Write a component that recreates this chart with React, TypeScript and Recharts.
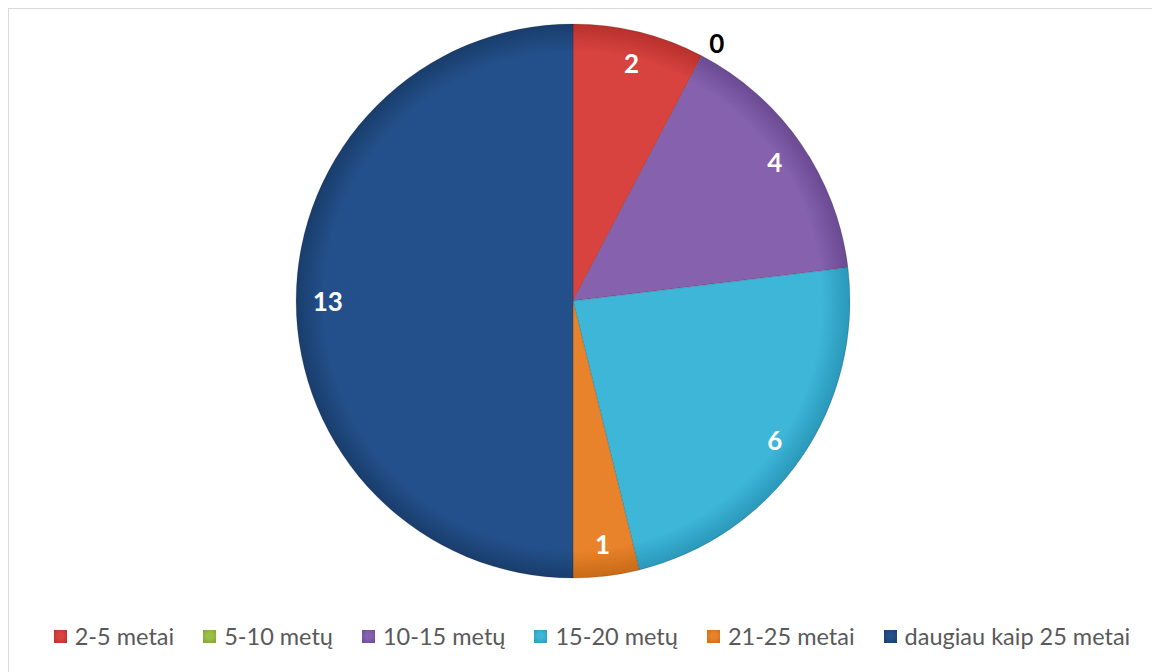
import React from "react";
import { PieChart, Pie, Cell, Legend } from "recharts";

const categories = ["2-5 metai", "5-10 metų", "10-15 metų", "15-20 metų", "21-25 metai", "daugiau kaip 25 metai"];
const values = [2, 0, 4, 6, 1, 13];
const colors = ["#D8433F", "#9CC046", "#8561AE", "#3DB6D8", "#E9832B", "#23508A"];
const darkColors = ["#B8302C", "#7FA032", "#6A4A92", "#2A98BA", "#C86A18", "#193D6C"];

const data = categories.map((name, i) => ({ name, value: values[i] }));

const RAD = Math.PI / 180;

const renderLabel = (props: any) => {
  const { cx, cy, midAngle, outerRadius, value } = props;
  const r = value === 0 ? outerRadius + 18 : outerRadius * 0.885;
  const ang = value === 0 ? midAngle - 1.5 : midAngle;
  const x = cx + r * Math.cos(-ang * RAD);
  const y = cy + r * Math.sin(-ang * RAD);
  return (
    <text
      x={x}
      y={y}
      fill={value === 0 ? "#000" : "#fff"}
      textAnchor="middle"
      dominantBaseline="central"
      fontFamily="Lato, sans-serif"
      fontWeight={700}
      fontSize={26}
    >
      {value}
    </text>
  );
};

const LegendContent = () => (
  <div
    style={{
      display: "flex",
      justifyContent: "center",
      alignItems: "center",
      gap: 29,
      fontFamily: "Lato, sans-serif",
      fontSize: 23.5,
      color: "#595959",
      whiteSpace: "nowrap",
    }}
  >
    {categories.map((c, i) => (
      <div key={c} style={{ display: "flex", alignItems: "center" }}>
        <span
          style={{
            display: "inline-block",
            width: 13,
            height: 13,
            marginRight: 8,
            background: `radial-gradient(circle at 50% 45%, ${colors[i]} 30%, ${darkColors[i]} 100%)`,
          }}
        />
        <span>{c}</span>
      </div>
    ))}
  </div>
);

export default function App() {
  return (
    <div
      style={{
        width: 1150,
        height: 670,
        border: "1px solid #d9d9d9",
        background: "#fff",
        position: "relative",
      }}
    >
      <PieChart width={1150} height={670}>
        <defs>
          {colors.map((c, i) => (
            <radialGradient id={`g${i}`} key={i} cx={564} cy={292} r={277} gradientUnits="userSpaceOnUse">
              <stop offset="0%" stopColor={c} />
              <stop offset="90%" stopColor={c} />
              <stop offset="100%" stopColor={darkColors[i]} />
            </radialGradient>
          ))}
        </defs>
        <Pie
          data={data}
          dataKey="value"
          nameKey="name"
          cx={559}
          cy={287}
          outerRadius={277}
          startAngle={90}
          endAngle={-270}
          stroke="rgba(0,0,0,0.15)"
          strokeWidth={1}
          label={renderLabel}
          labelLine={false}
          isAnimationActive={false}
        >
          {data.map((d, i) => (
            <Cell key={d.name} fill={`url(#g${i})`} />
          ))}
        </Pie>
        <Legend
          content={<LegendContent />}
          wrapperStyle={{ position: "absolute", top: 613, left: 8, width: 1150 }}
        />
      </PieChart>
    </div>
  );
}
